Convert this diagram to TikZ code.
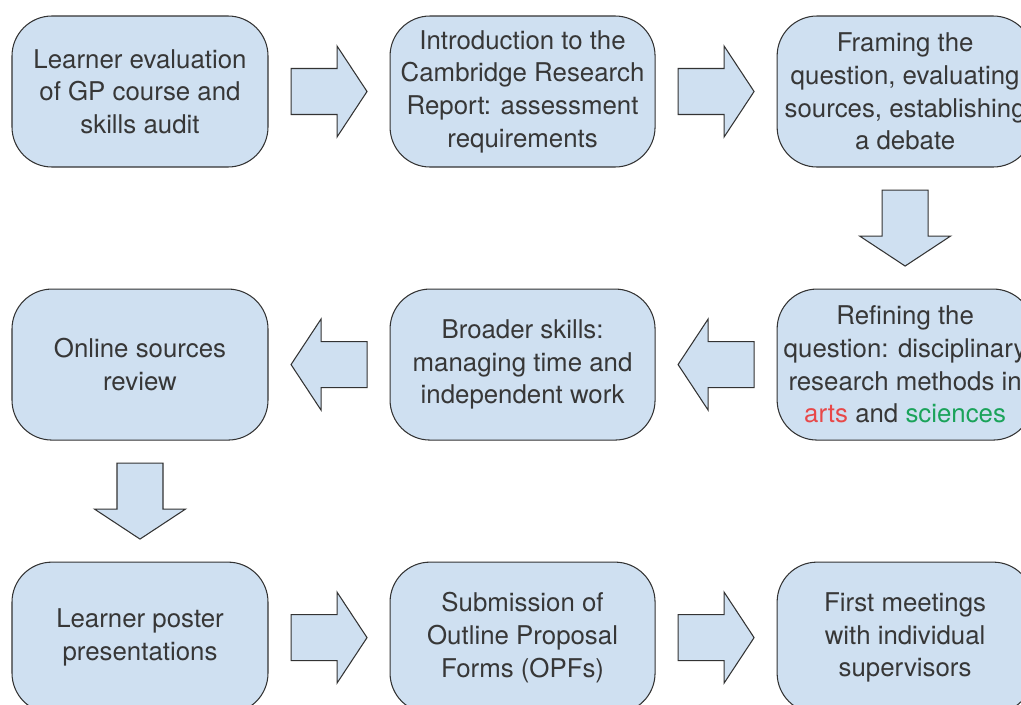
\documentclass[tikz,border=0pt]{standalone}
\usepackage{fontspec}
\setmainfont{TeX Gyre Heros}
\usetikzlibrary{positioning,calc}
\definecolor{boxblue}{RGB}{207,224,241}
\definecolor{boxline}{RGB}{51,51,51}
\definecolor{txtgray}{RGB}{55,55,55}
\definecolor{artsred}{RGB}{232,72,72}
\definecolor{scigreen}{RGB}{26,163,90}

\tikzset{
	blockarrow/.pic={
		\draw [draw=boxline, fill=boxblue, line width=0.6pt]
			(-0.76,0.46) -- (0.16,0.46) -- (0.16,0.91) -- (0.76,0)
			-- (0.16,-0.91) -- (0.16,-0.46) -- (-0.76,-0.46) -- cycle;
	}
}

\begin{document}
\begin{tikzpicture}[node distance=2.42cm,
	stepbox/.style={draw=boxline, fill=boxblue, line width=0.6pt, rounded corners=0.8cm,
		minimum width=5.12cm, minimum height=3.02cm, inner sep=0pt, align=center,
		text=txtgray, font=\fontsize{14.7}{18.6}\selectfont},
	widebox/.style={stepbox, minimum width=5.3cm}]

	\useasboundingbox (-2.80,1.83) rectangle (17.62,-12.25);

	% Steps {s1, s2, ..., s9}
	\node [stepbox] (s1)                {Learner evaluation\\of GP course and\\skills audit};
	\node [widebox] (s2) [right=of s1]  {Introduction to the\\Cambridge Research\\Report: assessment\\requirements};
	\node [stepbox] (s3) [right=of s2]  {Framing the\\question, evaluating\\sources, establishing\\a debate};
	\node [stepbox] (s4) [below=of s3]  {Refining the\\question: disciplinary\\research methods in\\\textcolor{artsred}{arts} and \textcolor{scigreen}{sciences}};
	\node [widebox] (s5) [left=of s4]   {Broader skills:\\managing time and\\independent work};
	\node [stepbox] (s6) [left=of s5]   {Online sources\\review};
	\node [stepbox] (s7) [below=of s6]  {Learner poster\\presentations};
	\node [widebox] (s8) [right=of s7]  {Submission of\\Outline Proposal\\Forms (OPFs)};
	\node [stepbox] (s9) [right=of s8]  {First meetings\\with individual\\supervisors};

	% Arrows between steps
	\pic              (a12) at ($(s1.east)!0.5!(s2.west)$)   {blockarrow};
	\pic              (a23) at ($(s2.east)!0.5!(s3.west)$)   {blockarrow};
	\pic [rotate=270] (a34) at ($(s3.south)!0.5!(s4.north)$) {blockarrow};
	\pic [rotate=180] (a45) at ($(s4.west)!0.5!(s5.east)$)   {blockarrow};
	\pic [rotate=180] (a56) at ($(s5.west)!0.5!(s6.east)$)   {blockarrow};
	\pic [rotate=270] (a67) at ($(s6.south)!0.5!(s7.north)$) {blockarrow};
	\pic              (a78) at ($(s7.east)!0.5!(s8.west)$)   {blockarrow};
	\pic              (a89) at ($(s8.east)!0.5!(s9.west)$)   {blockarrow};

\end{tikzpicture}
\end{document}
